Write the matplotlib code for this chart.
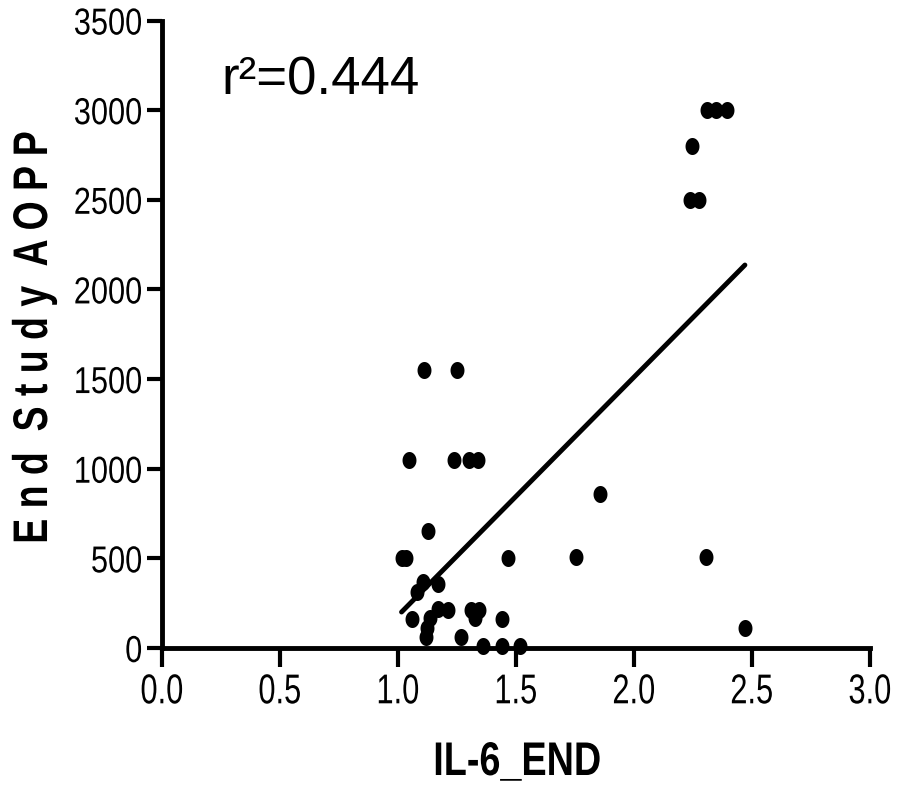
import numpy as np
import matplotlib
matplotlib.use("Agg")
import matplotlib.pyplot as plt
from matplotlib.patheffects import AbstractPathEffect
from matplotlib.transforms import Affine2D

# IL-6 vs AOPP at end of study
il6_end = [1.110, 1.250, 1.048, 1.239, 1.302, 1.338, 1.128, 1.015, 1.036, 1.467,
           1.107, 1.168, 1.079, 1.058, 1.168, 1.211, 1.136, 1.122, 1.119, 1.309,
           1.345, 1.326, 1.439, 1.267, 1.362, 1.442, 1.517, 1.856, 1.754, 2.305,
           2.470, 2.237, 2.277, 2.247, 2.308, 2.346, 2.393]
aopp_end = [1550, 1550, 1050, 1050, 1050, 1050, 650, 500, 500, 500,
            370, 357, 310, 160, 216, 212, 166, 110, 60, 212,
            212, 166, 160, 60, 10, 10, 10, 858, 505, 505,
            110, 2500, 2500, 2800, 3000, 3000, 3000]
x_ticks = [0.0, 0.5, 1.0, 1.5, 2.0, 2.5, 3.0]
y_ticks = [0, 500, 1000, 1500, 2000, 2500, 3000, 3500]
r2_label = "r\u00b2=0.444"


class Squeeze(AbstractPathEffect):
    """narrow the glyphs sideways (no Arial Narrow installed)"""
    def __init__(self, sx, anchor=0.5):
        super().__init__()
        self.sx = sx
        self.anchor = anchor

    def draw_path(self, renderer, gc, tpath, affine, rgbFace=None):
        v = tpath.vertices
        if len(v):
            x0 = v[:, 0].min() + self.anchor*(v[:, 0].max() - v[:, 0].min())
            affine = Affine2D().translate(-x0, 0).scale(self.sx, 1).translate(x0, 0) + affine
        renderer.draw_path(gc, tpath, affine, rgbFace)


x = np.array(il6_end)
y = np.array(aopp_end)
font = ["Liberation Sans", "DejaVu Sans"]

fig = plt.figure(figsize=(9.07, 7.85), dpi=100)
ax = fig.add_axes([162/907, 1 - 648/785, 708/907, 627.5/785])

# slightly tall dots, like the original
t = np.linspace(0, 2*np.pi, 60)
dot = np.column_stack([np.cos(t), 1.22*np.sin(t)])
ax.scatter(x, y, s=150, marker=dot, color="black", linewidths=0, clip_on=False, zorder=3)

slope, icept = np.polyfit(x, y, 1)
xl = np.array([x.min(), x.max()])
ax.plot(xl, slope*xl + icept, color="black", lw=3.5, solid_capstyle="round", zorder=2)

ax.set_xlim(0, 3)
ax.set_ylim(0, 3500)
ax.set_xticks(x_ticks)
ax.set_xticklabels(["%.1f" % v for v in x_ticks])
ax.set_yticks(y_ticks)
ax.set_yticklabels([str(v) for v in y_ticks])

for s in ["top", "right"]:
    ax.spines[s].set_visible(False)
for s in ["left", "bottom"]:
    ax.spines[s].set_linewidth(3.5)
    ax.spines[s].set_capstyle("projecting")

ax.tick_params(axis="x", length=14, width=3, pad=3.5)
ax.tick_params(axis="y", length=11, width=3, pad=3)
for lab in ax.get_xticklabels():
    lab.set_family(font)
    lab.set_fontsize(30)
    lab.set_path_effects([Squeeze(0.74, 0.5)])
for lab in ax.get_yticklabels():
    lab.set_family(font)
    lab.set_fontsize(27)
    lab.set_path_effects([Squeeze(0.82, 1.0)])

ax.set_xlabel("IL-6_END", family=font, fontweight="bold", fontsize=34,
              path_effects=[Squeeze(0.80)])
ax.xaxis.label.set_va("baseline")
ax.xaxis.set_label_coords(0.502, -0.2024)

ax.set_ylabel("E n d  S t u d y  A O P P", family=font, fontweight="bold", fontsize=35,
              path_effects=[Squeeze(0.77)])
ax.yaxis.label.set_va("baseline")
ax.yaxis.set_label_coords(-0.1624, 0.495)

ax.text(0.252, 3086, r2_label, family=font, fontsize=38, va="baseline", ha="left")

fig.savefig("out.png", dpi=100)
